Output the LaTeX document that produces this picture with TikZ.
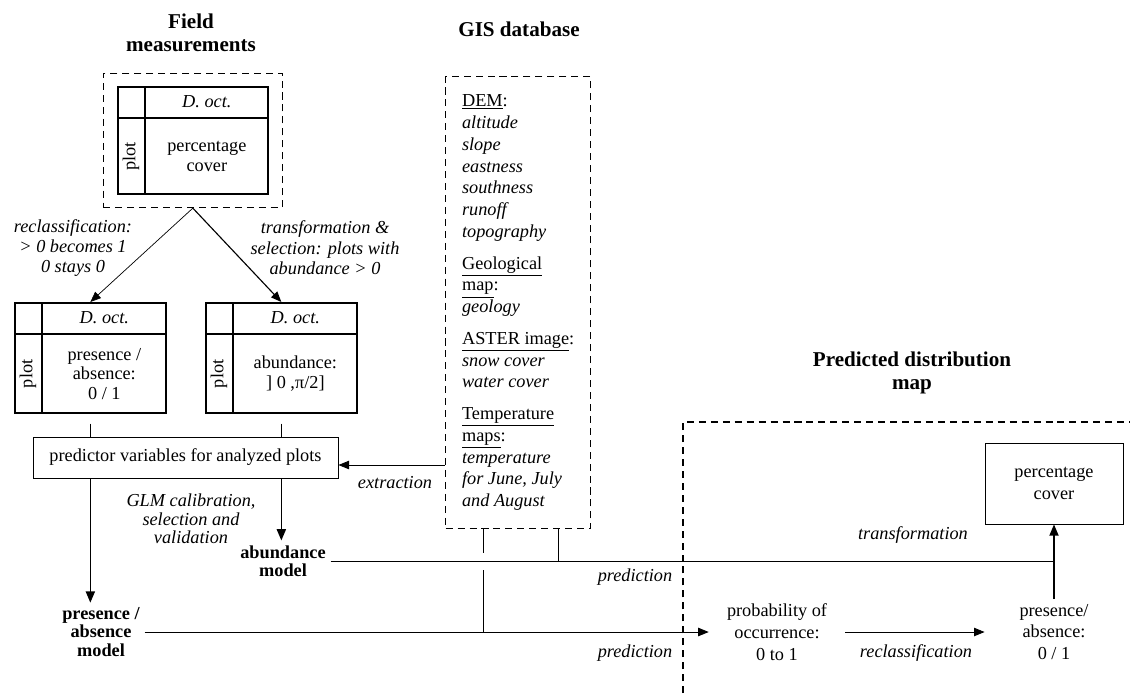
\documentclass[tikz,border=0pt]{standalone}
\usepackage{fontspec}
\setmainfont{Liberation Serif}
\usetikzlibrary{positioning,calc,fit,arrows.meta}
\tikzset{
  px/.style={x=0.025cm,y=-0.025cm},
  tabframe/.style={draw,line width=1.2pt,inner sep=0pt},
  tabline/.style={line width=1.2pt},
  dashbox/.style={draw,line width=0.9pt,dash pattern=on 5pt off 3.5pt},
  plainbox/.style={draw,line width=0.6pt},
  conn/.style={line width=0.6pt},
  arr/.style={line width=0.6pt,-{Triangle[length=7.5pt,width=6pt]}},
  thickarr/.style={line width=1pt,-{Triangle[length=8pt,width=6.5pt]}},
  lbl/.style={font=\itshape\fontsize{13}{14.5}\selectfont,align=center},
  ttl/.style={font=\bfseries\fontsize{15}{16.5}\selectfont,align=center},
  mdl/.style={font=\bfseries\fontsize{13}{13}\selectfont,align=center},
}
% plot x species table: name, left, top, width, height, body
\newcommand{\datatable}[6]{%
  \node[tabframe,anchor=north west,minimum width=#4*0.025cm,minimum height=#5*0.025cm] (#1) at (#2,#3) {};
  \draw[tabline] ([xshift=0.7cm]#1.north west) -- ([xshift=0.7cm]#1.south west);
  \draw[tabline] ([yshift=-0.8cm]#1.north west) -- ([yshift=-0.8cm]#1.north east);
  \node (#1-head) at ([xshift=0.35cm,yshift=-0.4cm]#1.north) {\itshape D. oct.};
  \node[align=center,font=\fontsize{13}{14}\selectfont] (#1-body) at ([xshift=0.35cm,yshift=-0.4cm]#1.center) {#6};
  \node[rotate=90] (#1-plot) at ([xshift=0.35cm,yshift=-0.4cm]#1.west) {plot};
}

\begin{document}
\begin{tikzpicture}[px,font=\fontsize{13}{15.5}\selectfont]
  \useasboundingbox (0,0) rectangle (1130,693);

  % Field measurements
  \node[ttl] (fieldttl) at (191,33) {Field\\measurements};
  \datatable{field}{117}{86}{150}{107}{percentage\\cover}
  \node[dashbox,fit=(field),inner xsep=0.34cm,inner ysep=0.32cm] (fieldbox) {};

  \datatable{pa}{14}{302}{151}{110}{presence /\\absence:\\0 / 1}
  \datatable{ab}{205}{302}{151}{110}{abundance:\\] 0 ,π/2]}
  \draw[arr,line width=0.5pt] (fieldbox.south) -- (pa.north);
  \draw[arr,line width=0.8pt] (fieldbox.south) -- (ab.north);
  \node[lbl] (reclA) at (73,248) {reclassification:\\> 0 becomes 1\\0 stays 0};
  \node[lbl] (trsel) at (325,248) {transformation \&\\selection: plots with\\abundance > 0};

  % GIS database
  \node[ttl] (gisttl) at (519,29) {GIS database};
  \node[dashbox,anchor=north west,minimum width=3.625cm,minimum height=11.3cm,align=left] (gis) at (445,76) {%
    \underline{DEM}:\\ \textit{altitude}\\ \textit{slope}\\ \textit{eastness}\\
    \textit{southness}\\ \textit{runoff}\\ \textit{topography}\\[7pt]
    \underline{Geological}\\ \underline{map}:\\ \textit{geology}\\[7pt]
    \underline{ASTER image}:\\ \textit{snow cover}\\ \textit{water cover}\\[7pt]
    \underline{Temperature}\\ \underline{maps}:\\ \textit{temperature}\\
    \textit{for June, July}\\ \textit{and August}};

  % calibration
  \node[plainbox,minimum width=7.625cm,minimum height=1.025cm] (pred) at (185.5,457.5)
    {predictor variables for analyzed plots};
  \draw[conn] ([yshift=-0.25cm]pa.south) -- (pa.south |- pred.north);
  \draw[conn] ([yshift=-0.25cm]ab.south) -- (ab.south |- pred.north);
  \draw[arr] ($(gis.west |- pred.east)+(0,7.5)$) -- ($(pred.east)+(0,7.5)$);
  \node[lbl] (extr) at (395,483) {extraction};

  \node[mdl] (am) at (283,561) {abundance\\model};
  \node[mdl] (pam) at (101,632) {presence /\\absence\\model};
  \draw[thickarr] (pred.south -| pa.south) -- (pa.south |- pam.north);
  \draw[thickarr] (pred.south -| ab.south) -- (ab.south |- am.north);
  \node[lbl,font=\itshape\fontsize{13}{13}\selectfont] (glm) at (191,519)
    {GLM calibration,\\selection and\\validation};

  % Predicted distribution map
  \node[ttl] (mapttl) at (912,373) {Predicted distribution\\map};
  \draw[dashbox] (683,693) |- (1130,422);
  \node[plainbox,minimum width=3.45cm,minimum height=2.025cm,align=center] (cover) at (1054,483.5)
    {percentage\\cover};
  \node[align=center,inner xsep=0.45cm] (prob) at (777,632) {probability of\\occurrence:\\0 to 1};
  \node[align=center] (pres) at (1054,632) {presence/\\absence:\\0 / 1};

  \coordinate (gA) at ([xshift=-0.8625cm]gis.south);
  \coordinate (gB) at ([xshift=1.0125cm]gis.south);
  \draw[conn] (am.east) -- (am.east -| cover.south);
  \draw[conn] (gB) -- (gB |- am.east);
  \draw[conn,shorten >=0.2cm] (gA) -- (gA |- am.east);
  \draw[conn,shorten <=0.225cm] (gA |- am.east) -- (gA |- pam.east);
  \draw[arr] (pam.east) -- (prob.west);
  \draw[arr] (prob.east) -- (prob.east -| cover.west);
  \draw[thickarr] (pres.north) -- (cover.south);
  \node[lbl] (predA) at (635,577) {prediction};
  \node[lbl] (predB) at (635,653) {prediction};
  \node[lbl] (trans) at (913,535) {transformation};
  \node[lbl] (recl) at (916,653) {reclassification};
\end{tikzpicture}
\end{document}
